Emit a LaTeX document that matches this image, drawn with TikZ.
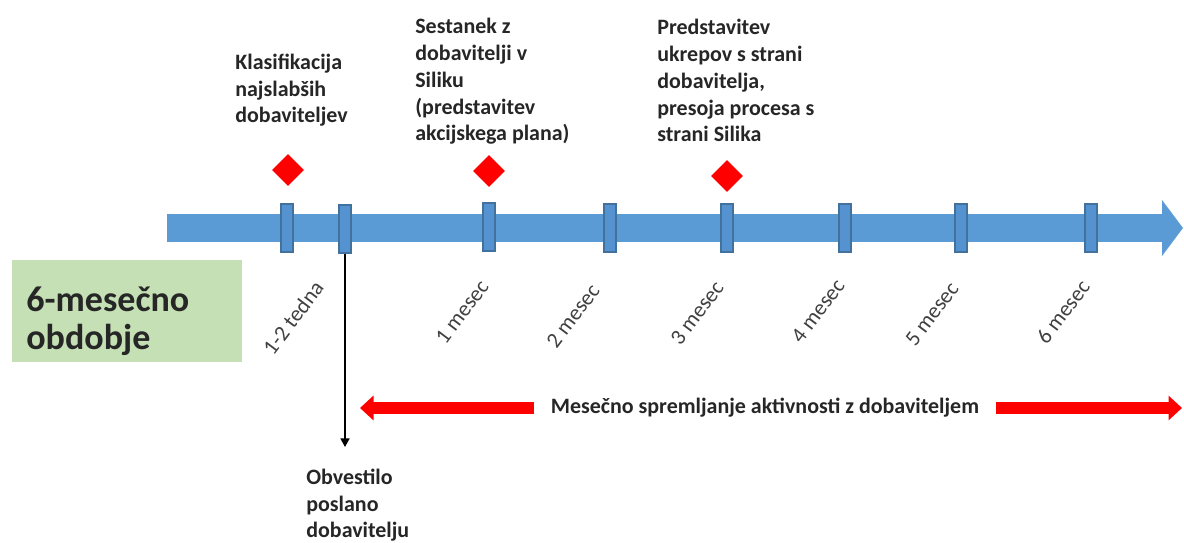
\documentclass[tikz,border=0pt]{standalone}
\usepackage{fontspec}
\setmainfont{Carlito}
\usepackage{xcolor}
\usepackage{tikz}
\usetikzlibrary{arrows.meta,shapes.geometric}
\definecolor{bar}{HTML}{5B9BD5}
\definecolor{barline}{HTML}{41719C}
\definecolor{tickfill}{HTML}{5592D0}
\definecolor{alert}{HTML}{FF0000}
\definecolor{periodbg}{HTML}{C5E0B4}
\definecolor{text}{HTML}{262626}
\definecolor{muted}{HTML}{404040}
\tikzset{
  timeline/.style={draw=bar, line width=0.56cm, -{Triangle[length=0.42cm,width=1.1cm]}},
  tickbox/.style={rectangle, fill=tickfill, draw=barline, line width=0.6pt, minimum width=0.24cm, minimum height=0.96cm, inner sep=0pt},
  event/.style={diamond, fill=alert, minimum size=0.64cm, inner sep=0pt},
  track/.style={draw=alert, line width=0.24cm, -{Triangle[length=0.27cm,width=0.48cm]}},
  note/.style={draw=black, line width=0.8pt, -{Triangle[length=0.17cm,width=0.18cm]}},
  lab/.style={text=text, font=\fontsize{12.5}{15.3}\selectfont\bfseries, align=left, inner sep=0pt},
  labm/.style={text=muted, font=\fontsize{12.5}{15}\selectfont, inner sep=0pt},
}

\begin{document}
\begin{tikzpicture}[x=0.02cm, y=-0.02cm]
  \useasboundingbox (0,0) rectangle (1184,543);

  % blue time axis
  \coordinate (start) at (167,228);
  \coordinate (end) at (1183,228);
  \draw[timeline] (start) -- (end);

  \node[tickbox] (t1) at (287,228) {};
  \node[tickbox] (t2) at (345,229) {};
  \node[tickbox] (m1) at (489,227) {};
  \node[tickbox] (m2) at (610,228) {};
  \node[tickbox] (m3) at (727,228) {};
  \node[tickbox] (m4) at (845,228) {};
  \node[tickbox] (m5) at (961,228) {};
  \node[tickbox] (m6) at (1091,228) {};

  % events above the axis (anchored at last baseline)
  \node[event] (e1) at (288,170) {};
  \node[event] (e2) at (489,171) {};
  \node[event] (e3) at (727,176) {};

  \node[lab, anchor=base west] (klas) at (235,123) {Klasifikacija\\najslabših\\dobaviteljev};
  \node[lab, anchor=base west] (meet) at (415,141) {Sestanek z\\dobavitelji v\\Siliku\\(predstavitev\\akcijskega plana)};
  \node[lab, anchor=base west] (pres) at (657,142) {Predstavitev\\ukrepov s strani\\dobavitelja,\\presoja procesa s\\strani Silika};

  % period box
  \node[fill=periodbg, minimum width=4.6cm, minimum height=2.04cm, inner sep=0pt] (period) at (127,311) {};
  \node[lab, font=\fontsize{20.5}{21.8}\selectfont\bfseries, anchor=base west] (periodtxt) at (26,350) {6-mesečno\\obdobje};

  % time labels
  \node[labm, rotate=53] (l12) at (293,318) {1-2 tedna};
  \node[labm, rotate=53] (l1) at (462,312) {1 mesec};
  \node[labm, rotate=53] (l2) at (573,316) {2 mesec};
  \node[labm, rotate=53] (l3) at (697,313) {3 mesec};
  \node[labm, rotate=53] (l4) at (818,311) {4 mesec};
  \node[labm, rotate=53] (l5) at (932,314) {5 mesec};
  \node[labm, rotate=53] (l6) at (1063,312) {6 mesec};

  % notice sent
  \coordinate (sent) at (345,447);
  \draw[note] (t2.south) -- (sent);
  \node[lab, anchor=base west] (notice) at (306,538) {Obvestilo\\poslano\\dobavitelju};

  % monthly follow-up
  \coordinate (ltip) at (360,408);
  \coordinate (rtip) at (1182,408);
  \node[lab, inner xsep=0.34cm] (follow) at (765,408) {Mesečno spremljanje aktivnosti z dobaviteljem};
  \draw[track] (follow.west) -- (ltip);
  \draw[track] (follow.east) -- (rtip);
\end{tikzpicture}
\end{document}
